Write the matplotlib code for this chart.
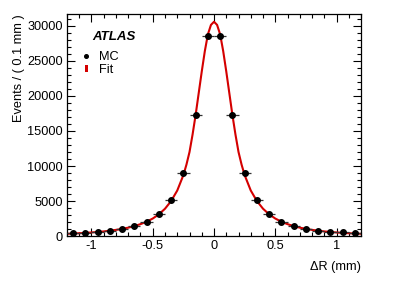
import matplotlib
matplotlib.use("Agg")
import matplotlib.pyplot as plt
from matplotlib.patches import Rectangle
from matplotlib.lines import Line2D
from matplotlib.ticker import MultipleLocator

plt.rcParams['font.family'] = ['Liberation Sans', 'DejaVu Sans']

# MC histogram (bin centres, 0.1 mm bins)
mc_x = [-1.15, -1.05, -0.95, -0.85, -0.75, -0.65, -0.55, -0.45, -0.35, -0.25, -0.15, -0.05,
        0.05, 0.15, 0.25, 0.35, 0.45, 0.55, 0.65, 0.75, 0.85, 0.95, 1.05, 1.15]
mc_y = [430, 500, 560, 760, 1000, 1400, 2000, 3100, 5100, 9000, 17300, 28600,
        28500, 17300, 9000, 5100, 3100, 2000, 1430, 1000, 760, 610, 510, 430]
mc_xerr = 0.05

# fit curve
fit_x = [-1.2, -1.15, -1.1, -1.05, -1.0, -0.95, -0.9, -0.85, -0.8, -0.75, -0.7, -0.65, -0.6,
         -0.55, -0.5, -0.45, -0.4, -0.35, -0.3, -0.25, -0.225, -0.2, -0.175, -0.15, -0.125,
         -0.1, -0.075, -0.05, -0.025, 0.0, 0.025, 0.05, 0.075, 0.1, 0.125, 0.15, 0.175, 0.2,
         0.225, 0.25, 0.3, 0.35, 0.4, 0.45, 0.5, 0.55, 0.6, 0.65, 0.7, 0.75, 0.8, 0.85, 0.9,
         0.95, 1.0, 1.05, 1.1, 1.15, 1.2]
fit_y = [320, 360, 400, 450, 510, 580, 660, 760, 880, 1020, 1200, 1420, 1700,
         2050, 2500, 3100, 3900, 5000, 6500, 8700, 10200, 12000, 14500, 17300, 20400,
         23500, 26400, 28800, 30150, 30600, 30150, 28800, 26400, 23500, 20400, 17300, 14500, 12000,
         10200, 8700, 6500, 5000, 3900, 3100, 2500, 2050, 1700, 1420, 1200, 1020, 880, 760, 660,
         580, 510, 450, 400, 360, 320]

fig = plt.figure(figsize=(4.15, 2.81), dpi=100)
ax = fig.add_axes([0.1614, 0.160, 0.7086, 0.790])

ax.errorbar(mc_x, mc_y, xerr=mc_xerr, fmt='o', color='black', ms=4.0,
            elinewidth=0.9, ecolor='#333333', capsize=0, zorder=3)
ax.plot(fit_x, fit_y, color='#d40000', lw=1.5, zorder=2)

ax.set_xlim(-1.2, 1.2)
ax.set_ylim(0, 31700)
ax.xaxis.set_major_locator(MultipleLocator(0.5))
ax.xaxis.set_minor_locator(MultipleLocator(0.1))
ax.yaxis.set_major_locator(MultipleLocator(5000))
ax.yaxis.set_minor_locator(MultipleLocator(1000))
ax.tick_params(which='both', direction='in', top=True, right=True, labelsize=9.2, pad=3)
ax.tick_params(which='major', length=6, width=0.8)
ax.tick_params(which='minor', length=3, width=0.8)
ax.set_xticks([-1, -0.5, 0, 0.5, 1])
ax.set_xticklabels(['-1', '-0.5', '0', '0.5', '1'])
for s in ax.spines.values():
    s.set_linewidth(0.9)

fig.text(361 / 415, 1 - 267 / 281, 'ΔR (mm)', ha='right', va='center', fontsize=9.2)
fig.text(19 / 415, 1 - 14 / 281, 'Events / ( 0.1 mm )', ha='center', va='top',
         rotation=90, fontsize=9.2)

fig.text(92 / 415, 1 - 37 / 281, 'ATLAS', ha='left', va='center', fontsize=9.5,
         fontweight='bold', fontstyle='italic')

# legend entries
h_mc = Line2D([], [], marker='o', color='black', ls='none', ms=2.6)
h_fit = Rectangle((0, 0), 1, 1, facecolor='#d40000', edgecolor='none')
leg = fig.legend([h_mc, h_fit], ['MC', 'Fit'], loc='upper left',
                 bbox_to_anchor=(84.5 / 415, 1 - 51.5 / 281), frameon=False, fontsize=9.2,
                 handlelength=0.25, handleheight=0.55, handletextpad=0.85, labelspacing=0.05,
                 borderpad=0, borderaxespad=0)

fig.savefig('out.png', dpi=100)
